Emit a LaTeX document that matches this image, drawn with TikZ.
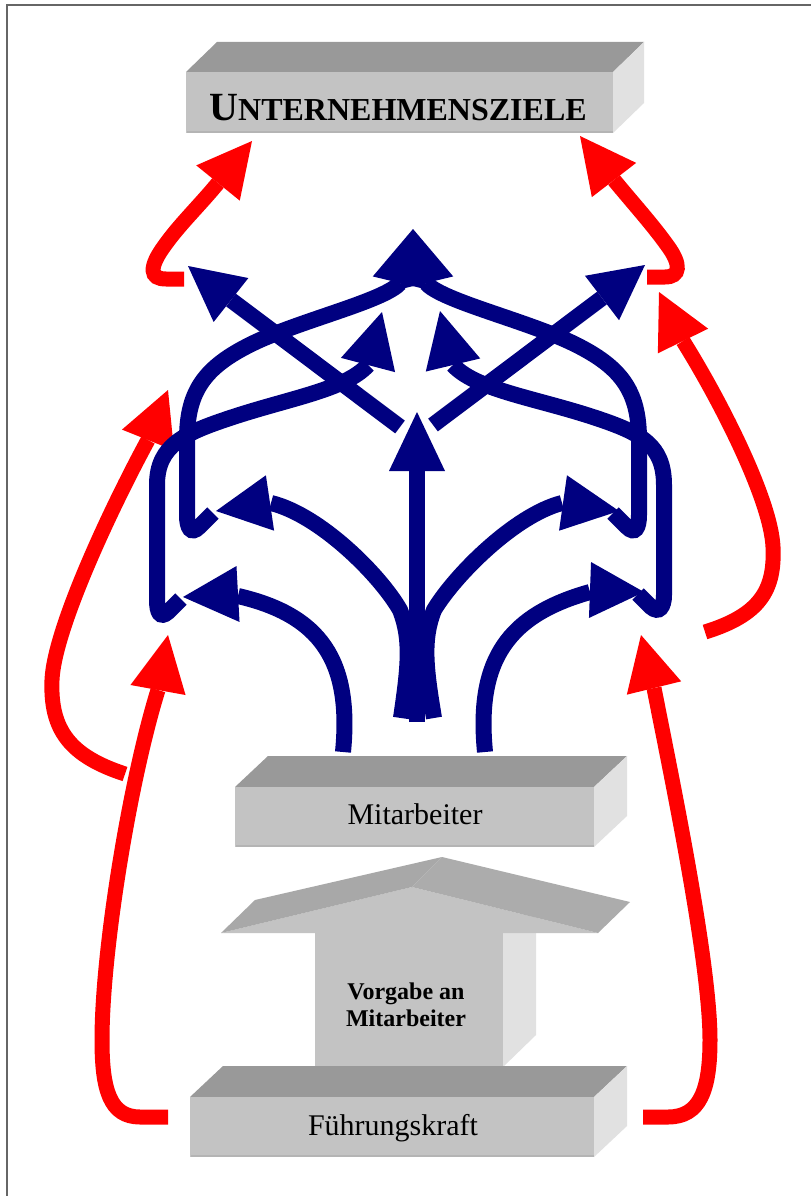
\documentclass[tikz,border=0pt]{standalone}
\usepackage{fontspec}
\setmainfont{Liberation Serif}
\usetikzlibrary{calc}
\definecolor{navyb}{HTML}{000080}
\definecolor{redc}{HTML}{FF0000}
\definecolor{boxtop}{HTML}{999999}
\definecolor{boxfront}{HTML}{C3C3C3}
\definecolor{boxside}{HTML}{E1E1E1}
\definecolor{boxedge}{HTML}{B4B4B4}
\definecolor{roofl}{HTML}{A8A8A8}
\definecolor{roofr}{HTML}{ACACAC}
\newcommand\ahead[3]{\fill[#1] (#3) -- ($(#2)!28pt!90:(#3)$) -- ($(#2)!28pt!-90:(#3)$) -- cycle;}
\tikzset{
  bluelw/.style={draw=navyb, line width=16pt},
  redlw/.style={draw=redc, line width=15pt},
  topface/.style={fill=boxtop},
  sideface/.style={fill=boxside},
  frontface/.style={fill=boxfront},
  lbl/.style={anchor=base, inner sep=0pt}
}
\begin{document}
\begin{tikzpicture}[x=1pt,y=-1pt]
\useasboundingbox (0,0) rectangle (811,1196);
\fill[white] (0,0) rectangle (811,1196);
\draw[line width=1.5pt, gray!80!black] (7,1196) -- (7,5) -- (811,5);

% ---- Unternehmensziele box
\fill[topface] (186,72) -- (217,42) -- (644,42) -- (613,72) -- cycle;
\fill[sideface] (613,72) -- (644,42) -- (644,103) -- (613,133) -- cycle;
\fill[frontface] (186,72) rectangle (613,133);
\draw[boxedge, line width=2pt] (187,132) -- (613,132);
\node[lbl] (ziele) at (398,121) {\bfseries{\fontsize{40}{40}\selectfont U}{\fontsize{32}{32}\selectfont NTERNEHMENSZIELE}};

% ---- Mitarbeiter box
\fill[topface] (235,787) -- (268,756) -- (627,756) -- (594,787) -- cycle;
\fill[sideface] (594,787) -- (627,756) -- (627,816) -- (594,847) -- cycle;
\fill[frontface] (235,787) rectangle (594,847);
\draw[boxedge, line width=2pt] (236,846) -- (594,846);
\node[lbl, font=\fontsize{30}{30}\selectfont] (mit) at (415,824) {Mitarbeiter};

% ---- Vorgabe arrow
\fill[sideface] (503,933) -- (536,902) -- (536,1035) -- (503,1067) -- cycle;
\fill[frontface] (315,933) rectangle (503,1067);
\fill[frontface] (221,933) -- (412,887) -- (598,933) -- cycle;
\fill[roofl] (221,933) -- (255,900) -- (442,857) -- (412,887) -- cycle;
\fill[roofr] (412,887) -- (442,857) -- (630,902) -- (598,933) -- cycle;
\node[lbl, font=\bfseries\fontsize{24}{24}\selectfont] (vorg1) at (406,999) {Vorgabe an};
\node[lbl, font=\bfseries\fontsize{24}{24}\selectfont] (vorg2) at (406,1026) {Mitarbeiter};

% ---- Fuehrungskraft box
\fill[topface] (190,1097) -- (223,1066) -- (627,1066) -- (594,1097) -- cycle;
\fill[sideface] (594,1097) -- (627,1066) -- (627,1126) -- (594,1157) -- cycle;
\fill[frontface] (190,1097) rectangle (594,1157);
\draw[boxedge, line width=2pt] (191,1156) -- (594,1156);
\node[lbl, font=\fontsize{30}{30}\selectfont] (fk) at (393,1135) {Führungskraft};

% ---- red arrows
\draw[redlw] (184,279) -- (166,279) .. controls (150,279) and (148,268) .. (165,245) .. controls (180,224) and (200,205) .. (218,183);
\ahead{redc}{218,183}{252,141}
\draw[redlw] (647,277) -- (665,277) .. controls (680,277) and (682,265) .. (667,245) .. controls (652,224) and (632,202) .. (614,180);
\ahead{redc}{614,180}{580,136}
\draw[redlw] (125,774) .. controls (70,756) and (50,730) .. (52,680) .. controls (54,630) and (110,510) .. (148,440);
\ahead{redc}{148,440}{168,390}
\draw[redlw] (705,632) .. controls (760,615) and (775,590) .. (773,547) .. controls (771,500) and (720,400) .. (683,341);
\ahead{redc}{683,341}{659,292}
\draw[redlw] (168,1117) -- (140,1117) .. controls (110,1117) and (102,1090) .. (102,1040) .. controls (102,950) and (130,780) .. (158,690);
\ahead{redc}{158,690}{168,635}
\draw[redlw] (643,1117) -- (668,1117) .. controls (700,1117) and (710,1090) .. (710,1040) .. controls (710,960) and (670,770) .. (654,688);
\ahead{redc}{654,688}{641,635}

% ---- blue level 1
\draw[bluelw] (343,752) .. controls (352,660) and (320,615) .. (238,596);
\ahead{navyb}{238,594}{183,597}
\draw[bluelw] (401,718) .. controls (408,670) and (412,640) .. (400,610) .. controls (380,575) and (320,515) .. (271,503);
\ahead{navyb}{270,503}{216,511}
\draw[bluelw] (417,722) -- (417,471);
\ahead{navyb}{417,471}{417,412}
\draw[bluelw] (434,718) .. controls (426,670) and (422,640) .. (434,610) .. controls (455,575) and (515,515) .. (562,503);
\ahead{navyb}{563,503}{619,511}
\draw[bluelw] (485,752) .. controls (476,660) and (508,615) .. (590,592);
\ahead{navyb}{590,590}{644,592}

% ---- blue level 2
\draw[bluelw] (213,513) -- (199,527) .. controls (191,535) and (187,528) .. (187,515) -- (187,440) .. controls (187,390) and (205,365) .. (260,340) .. controls (310,318) and (385,300) .. (400,283);
\draw[bluelw] (613,513) -- (627,527) .. controls (635,535) and (639,528) .. (639,515) -- (639,440) .. controls (639,390) and (621,365) .. (566,340) .. controls (516,318) and (441,300) .. (426,283);
\ahead{navyb}{400,283}{413,229}
\ahead{navyb}{426,283}{413,229}
\draw[bluelw] (181,599) -- (168,612) .. controls (160,619) and (157,612) .. (157,600) -- (157,485) .. controls (157,445) and (185,433) .. (230,418) .. controls (290,398) and (345,390) .. (368,365);
\ahead{navyb}{368,365}{382,312}
\draw[bluelw] (638,594) -- (651,607) .. controls (659,614) and (664,607) .. (664,595) -- (664,485) .. controls (664,445) and (641,433) .. (596,418) .. controls (536,398) and (476,390) .. (453,365);
\ahead{navyb}{453,365}{440,311}
\draw[bluelw] (400,427) -- (231,300);
\ahead{navyb}{231,300}{188,266}
\draw[bluelw] (433,425) -- (602,298);
\ahead{navyb}{602,298}{645,265}
\end{tikzpicture}
\end{document}
